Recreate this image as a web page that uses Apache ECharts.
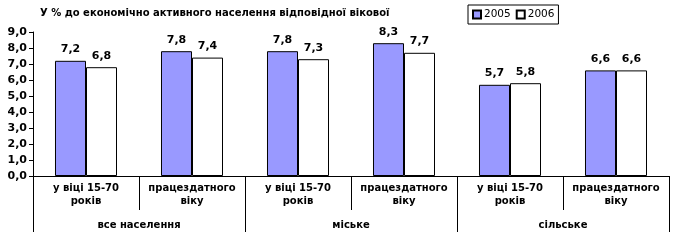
<!DOCTYPE html>
<html><head><meta charset="utf-8">
<script src="https://cdn.jsdelivr.net/npm/echarts@6/dist/echarts.min.js"></script>
<style>html,body{margin:0;padding:0;background:#fff}#c{width:673px;height:240px}</style>
</head><body><div id="c"></div>
<script>
var titleText = 'У % до економічно активного населення відповідної вікової';
var categories = ['у віці 15-70\nроків','працездатного\nвіку','у віці 15-70\nроків','працездатного\nвіку','у віці 15-70\nроків','працездатного\nвіку'];
var groups = ['все населення','міське','сільське'];
var seriesNames = ['2005','2006'];
var values2005 = [7.2, 7.8, 7.8, 8.3, 5.7, 6.6];
var values2006 = [6.8, 7.4, 7.3, 7.7, 5.8, 6.6];
var yMin = 0, yMax = 9, yInterval = 1;

var FONT = 'DejaVu Sans';
function fmt(v){ return v.toFixed(1).replace('.', ','); }
var chart = echarts.init(document.getElementById('c'), null, {renderer:'canvas'});
var lbl = {show:true, position:'top', distance:6, fontFamily:FONT, fontWeight:'bold', fontSize:11, color:'#000',
  formatter:function(p){return fmt(p.value);}};
chart.setOption({
  animation:false,
  backgroundColor:'#fff',
  title:{text:titleText, left:35, top:3, textStyle:{fontFamily:FONT, fontWeight:'bold', fontSize:10, color:'#000'}},
  legend:{data:seriesNames, left:468, top:5, itemWidth:8, itemHeight:8, itemGap:5, padding:[4,4],
    borderColor:'#000', borderWidth:1, icon:'rect',
    textStyle:{fontFamily:FONT, fontSize:10.5, color:'#000', padding:[0,0,0,-2]}},
  grid:{left:33, right:4, top:32, bottom:64, containLabel:false},
  xAxis:[{type:'category', data:categories, position:'bottom',
    axisLine:{lineStyle:{color:'#000', width:1}},
    axisTick:{show:true, interval:0, length:34, lineStyle:{color:'#000'}},
    axisLabel:{interval:0, margin:6, fontFamily:FONT, fontWeight:'bold', fontSize:10, lineHeight:13, color:'#000'}},
   {type:'category', data:groups, position:'bottom',
    axisLine:{show:false},
    axisTick:{show:true, interval:0, length:56, lineStyle:{color:'#000'}},
    axisLabel:{interval:0, margin:44, fontFamily:FONT, fontWeight:'bold', fontSize:10, color:'#000'}}],
  yAxis:{type:'value', min:yMin, max:yMax, interval:yInterval,
    axisLine:{show:true, lineStyle:{color:'#000'}},
    axisTick:{show:true, length:4, lineStyle:{color:'#000'}},
    splitLine:{show:false},
    axisLabel:{margin:6, fontFamily:FONT, fontWeight:'bold', fontSize:11, color:'#000', formatter:function(v){return fmt(v);}}},
  series:[
    {name:seriesNames[0], type:'bar', data:values2005, xAxisIndex:0, barGap:'0%', barCategoryGap:'41.5%',
     itemStyle:{color:'#9999FF', borderColor:'#000', borderWidth:1}, label:lbl},
    {name:seriesNames[1], type:'bar', data:values2006, xAxisIndex:0, barGap:'0%', barCategoryGap:'41.5%',
     itemStyle:{color:'#FFFFFF', borderColor:'#000', borderWidth:1}, label:lbl}
  ]
});
</script></body></html>
